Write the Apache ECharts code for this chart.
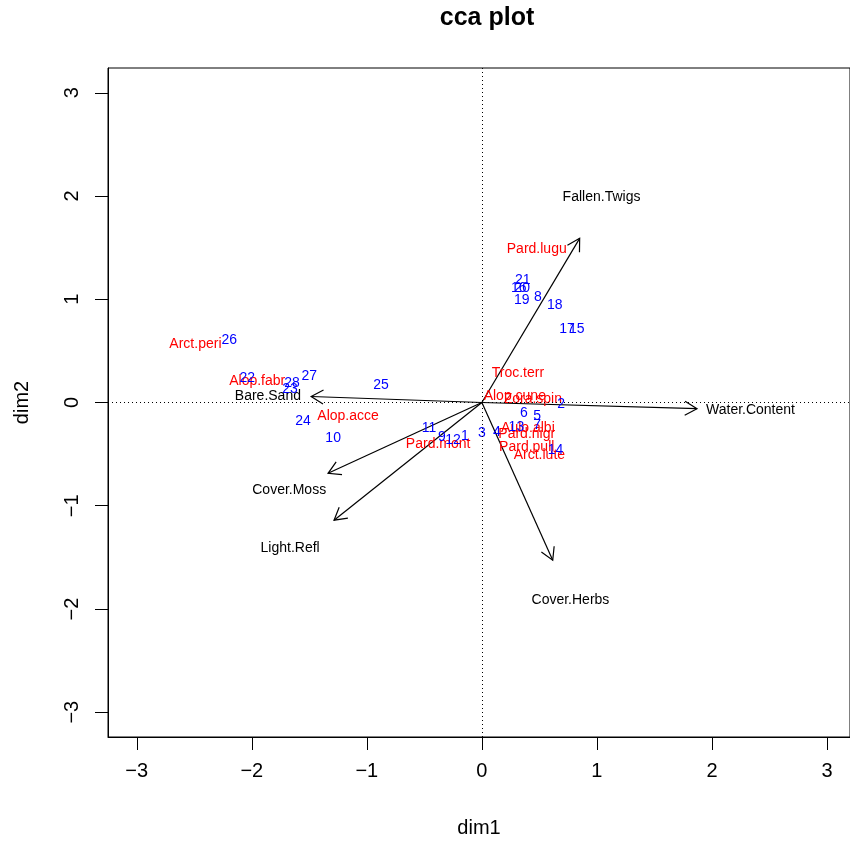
<!DOCTYPE html>
<html>
<head>
<meta charset="utf-8">
<script src="https://cdn.jsdelivr.net/npm/echarts@6/dist/echarts.min.js"></script>
<style>html,body{margin:0;padding:0;background:#fff}#c{width:850px;height:844px}</style>
</head>
<body>
<div id="c"></div>
<script>
// Sites (blue numbers)
const siteNames = ['1','2','3','4','5','6','7','8','9','10','11','12','13','14','15','16','17','18','19','20','21','22','23','24','25','26','27','28'];
const siteX = [-0.148, 0.69, 0.0, 0.13, 0.48, 0.365, 0.48, 0.486, -0.347, -1.293, -0.46, -0.25, 0.30, 0.64, 0.825, 0.32, 0.74, 0.634, 0.347, 0.35, 0.356, -2.04, -1.667, -1.554, -0.877, -2.196, -1.50, -1.65];
const siteY = [-0.33, -0.02, -0.30, -0.29, -0.135, -0.10, -0.22, 1.02, -0.34, -0.35, -0.25, -0.36, -0.24, -0.465, 0.715, 1.11, 0.715, 0.94, 0.995, 1.11, 1.19, 0.24, 0.126, -0.184, 0.164, 0.60, 0.26, 0.19];

// Species (red)
const specNames = ['Alop.acce','Alop.cune','Alop.fabr','Arct.lute','Arct.peri','Aulo.albi','Pard.lugu','Pard.mont','Pard.nigr','Pard.pull','Troc.terr','Zora.spin'];
const specX = [-1.163, 0.286, -1.953, 0.50, -2.49, 0.40, 0.477, -0.38, 0.39, 0.39, 0.313, 0.443];
const specY = [-0.135, 0.058, 0.203, -0.51, 0.57, -0.25, 1.49, -0.405, -0.31, -0.435, 0.28, 0.03];

// Environmental arrows (black)
const envNames = ['Water.Content','Fallen.Twigs','Cover.Herbs','Light.Refl','Cover.Moss','Bare.Sand'];
const envX = [1.87, 0.85, 0.616, -1.285, -1.337, -1.484];
const envY = [-0.06, 1.59, -1.527, -1.14, -0.686, 0.058];
const envLabelX = [2.335, 1.04, 0.77, -1.667, -1.675, -1.86];
const envLabelY = [-0.075, 1.99, -1.91, -1.41, -0.85, 0.058];

const tickValues = [-3, -2, -1, 0, 1, 2, 3];

const FONT = '"Liberation Sans", Arial, Helvetica, sans-serif';

function textSeries(names, xs, ys, color) {
  return {
    type: 'custom',
    silent: true,
    data: names.map((n, i) => [xs[i], ys[i], n]),
    renderItem: function (params, api) {
      const p = api.coord([api.value(0), api.value(1)]);
      return {
        type: 'text',
        x: p[0], y: p[1],
        style: {
          text: names[params.dataIndex],
          fill: color,
          fontSize: 14,
          fontFamily: FONT,
          align: 'center',
          verticalAlign: 'middle'
        }
      };
    }
  };
}

const arrowSeries = {
  type: 'custom',
  silent: true,
  data: envNames.map((n, i) => [envX[i], envY[i]]),
  renderItem: function (params, api) {
    const o = api.coord([0, 0]);
    const t = api.coord([api.value(0), api.value(1)]);
    const ang = Math.atan2(t[1] - o[1], t[0] - o[0]);
    const L = 14, a = Math.PI / 6;
    const h1 = [t[0] - L * Math.cos(ang - a), t[1] - L * Math.sin(ang - a)];
    const h2 = [t[0] - L * Math.cos(ang + a), t[1] - L * Math.sin(ang + a)];
    return {
      type: 'group',
      children: [
        { type: 'polyline', shape: { points: [o, t] }, style: { stroke: '#000', lineWidth: 1.2, fill: null } },
        { type: 'polyline', shape: { points: [h1, t, h2] }, style: { stroke: '#000', lineWidth: 1.2, fill: null } }
      ]
    };
  }
};

const sitesSeries = textSeries(siteNames, siteX, siteY, '#0000FF');
sitesSeries.markLine = {
  silent: true,
  symbol: ['none', 'none'],
  animation: false,
  label: { show: false },
  lineStyle: { color: '#000', type: [1, 3], width: 1 },
  data: [{ xAxis: 0 }, { yAxis: 0 }]
};

const chart = echarts.init(document.getElementById('c'), null, { renderer: 'canvas' });
chart.setOption({
  animation: false,
  backgroundColor: '#fff',
  title: {
    text: 'cca plot',
    left: 482,
    textAlign: 'center',
    top: 1,
    textStyle: { fontFamily: FONT, fontSize: 25, fontWeight: 'bold', color: '#000' }
  },
  grid: {
    left: 108, top: 68, right: -2, bottom: 107,
    show: true, borderColor: '#000', borderWidth: 1, backgroundColor: 'transparent'
  },
  xAxis: {
    type: 'value',
    min: -3.25, max: 3.2,
    name: 'dim1', nameLocation: 'middle', nameGap: 81,
    nameTextStyle: { fontFamily: FONT, fontSize: 20, color: '#000' },
    axisLine: { show: true, onZero: false, lineStyle: { color: '#000', width: 1 } },
    axisTick: { show: true, length: 13, customValues: tickValues, lineStyle: { color: '#000', width: 1 } },
    axisLabel: {
      customValues: tickValues, margin: 24,
      fontFamily: FONT, fontSize: 20, color: '#000',
      formatter: v => (v < 0 ? '\u2212' + Math.abs(v) : String(v))
    },
    splitLine: { show: false }
  },
  yAxis: {
    type: 'value',
    min: -3.24, max: 3.24,
    name: 'dim2', nameLocation: 'middle', nameGap: 76,
    nameTextStyle: { fontFamily: FONT, fontSize: 20, color: '#000' },
    axisLine: { show: true, onZero: false, lineStyle: { color: '#000', width: 1 } },
    axisTick: { show: true, length: 13, customValues: tickValues, lineStyle: { color: '#000', width: 1 } },
    axisLabel: {
      customValues: tickValues, margin: 26, rotate: 90,
      fontFamily: FONT, fontSize: 20, color: '#000',
      formatter: v => (v < 0 ? '\u2212' + Math.abs(v) : String(v))
    },
    splitLine: { show: false }
  },
  series: [
    arrowSeries,
    textSeries(envNames, envLabelX, envLabelY, '#000000'),
    textSeries(specNames, specX, specY, '#FF0000'),
    sitesSeries
  ]
});
</script>
</body>
</html>
